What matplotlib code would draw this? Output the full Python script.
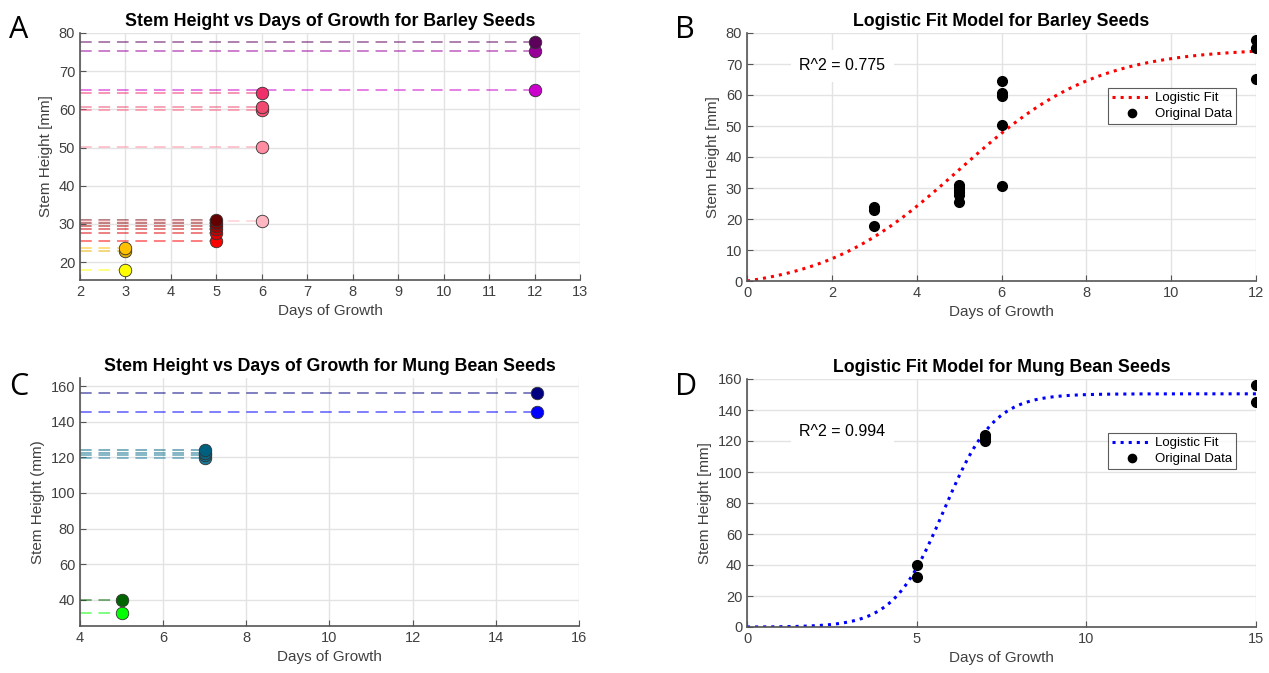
import numpy as np
import matplotlib
matplotlib.use("Agg")
from matplotlib import pyplot as plt

plt.rcParams['font.family'] = ['Liberation Sans', 'DejaVu Sans']

# barley seeds: (day, height) and marker colours
barley_days = [3, 3, 3, 5, 5, 5, 5, 5, 5, 6, 6, 6, 6, 6, 12, 12, 12]
barley_heights = [17.9, 23.0, 23.8,
                  25.4, 27.6, 28.6, 29.4, 30.3, 30.9,
                  30.8, 50.2, 59.7, 60.6, 64.4,
                  65.2, 75.2, 77.7]
barley_colors = ['#FFFF00', '#E6B000', '#FFC000',
                 '#FF0000', '#E00000', '#C80000', '#A80000', '#880000', '#650000',
                 '#FFB6C1', '#FF8CA0', '#FF5577', '#F04A70', '#F0306A',
                 '#CC00CC', '#990099', '#5C005C']

# mung bean seeds
mung_days = [5, 5, 7, 7, 7, 7, 15, 15]
mung_heights = [32.5, 40.0, 119.8, 121.3, 122.6, 124.0, 145.2, 156.2]
mung_colors = ['#00FF00', '#006400', '#1A7A9A', '#10708F', '#086888', '#006080',
               '#0000FF', '#000080']

# logistic fit parameters (K, r, x0)
barley_fit = (78.5, 0.62, 5.0)
mung_fit = (150.5, 1.35, 5.8)
barley_r2 = 0.775
mung_r2 = 0.994

TICK_COL = '#404040'
GRID_COL = '#E3E3E3'
W, H = 1269, 673


def logistic(x, K, r, x0):
    s = 1 / (1 + np.exp(-r * (x - x0)))
    s0 = 1 / (1 + np.exp(r * x0))
    return K * (s - s0)


def style(ax, xlim, ylim, xticks, yticks, ylabel):
    ax.set_xlim(*xlim)
    ax.set_ylim(*ylim)
    ax.set_xticks(xticks)
    ax.set_yticks(yticks)
    ax.grid(True, color=GRID_COL, linewidth=1)
    ax.set_axisbelow(True)
    for s in ['top', 'right']:
        ax.spines[s].set_visible(False)
    for s in ['left', 'bottom']:
        ax.spines[s].set_color('#555555')
        ax.spines[s].set_linewidth(1.2)
    ax.tick_params(direction='in', length=4, colors='#555555', labelcolor=TICK_COL,
                   labelsize=10.5)
    ax.set_xlabel('Days of Growth', fontsize=11, color=TICK_COL)
    ax.set_ylabel(ylabel, fontsize=11, color=TICK_COL)


def scatter_panel(ax, days, heights, colors, xmin):
    for d, h, c in zip(days, heights, colors):
        ax.plot([xmin, d], [h, h], '--', color=c, alpha=0.5, linewidth=1.4,
                dashes=(6, 3.5))
    for d, h, c in zip(days, heights, colors):
        ax.plot(d, h, 'o', markersize=9, markerfacecolor=c,
                markeredgecolor='#333333', markeredgewidth=0.6, zorder=5)


def fit_panel(ax, days, heights, params, xmax, color, r2, r2_y, leg_top):
    xs = np.linspace(0, xmax, 300)
    ax.plot(xs, logistic(xs, *params), ':', color=color, linewidth=2.2,
            label='Logistic Fit')
    ax.plot(days, heights, 'o', color='black', markersize=7, linestyle='none',
            label='Original Data', zorder=5)
    ax.text(0.103, r2_y, 'R^2 = %.3f' % r2, transform=ax.transAxes, fontsize=11.5,
            va='center', ha='left', color='black',
            bbox=dict(facecolor='white', edgecolor='none', pad=6))
    leg = ax.legend(loc='upper left', bbox_to_anchor=(0.709, leg_top),
                    fontsize=9.5, frameon=True, fancybox=False, markerscale=0.85,
                    borderpad=0.3, handlelength=3.0, handletextpad=0.3,
                    labelspacing=0.3, borderaxespad=0)
    leg.get_frame().set_edgecolor('#333333')
    leg.get_frame().set_linewidth(0.8)


fig = plt.figure(figsize=(W / 100, H / 100), dpi=100)
axA = fig.add_axes([80 / W, 1 - 280 / H, 500 / W, 247 / H])
axB = fig.add_axes([747 / W, 1 - 281 / H, 509 / W, 248 / H])
axC = fig.add_axes([80 / W, 1 - 626 / H, 499 / W, 248 / H])
axD = fig.add_axes([747 / W, 1 - 627 / H, 509 / W, 248 / H])

TITLE_KW = dict(fontsize=12.8, fontweight='bold', pad=5)

scatter_panel(axA, barley_days, barley_heights, barley_colors, 2)
style(axA, (2, 13), (15.3, 80), range(2, 14), range(20, 81, 10), 'Stem Height [mm]')
axA.set_title('Stem Height vs Days of Growth for Barley Seeds', **TITLE_KW)

fit_panel(axB, barley_days, barley_heights, barley_fit, 12, '#FF0000', barley_r2,
          0.867, 0.778)
style(axB, (0, 12), (0, 80), range(0, 13, 2), range(0, 81, 10), 'Stem Height [mm]')
axB.set_title('Logistic Fit Model for Barley Seeds', **TITLE_KW)

scatter_panel(axC, mung_days, mung_heights, mung_colors, 4)
style(axC, (4, 16), (25.4, 164.5), range(4, 17, 2), range(40, 161, 20), 'Stem Height (mm)')
axC.set_title('Stem Height vs Days of Growth for Mung Bean Seeds', **TITLE_KW)

fit_panel(axD, mung_days, mung_heights, mung_fit, 15, '#0000FF', mung_r2,
          0.79, 0.782)
style(axD, (0, 15), (0, 160), range(0, 16, 5), range(0, 161, 20), 'Stem Height [mm]')
axD.set_title('Logistic Fit Model for Mung Bean Seeds', **TITLE_KW)

for lbl, x, y in [('A', 19, 30), ('B', 685, 30), ('C', 19, 387), ('D', 686, 387)]:
    fig.text(x / W, 1 - y / H, lbl, fontsize=22, family='Open Sans',
             ha='center', va='center')

fig.savefig('out.png', dpi=100)
